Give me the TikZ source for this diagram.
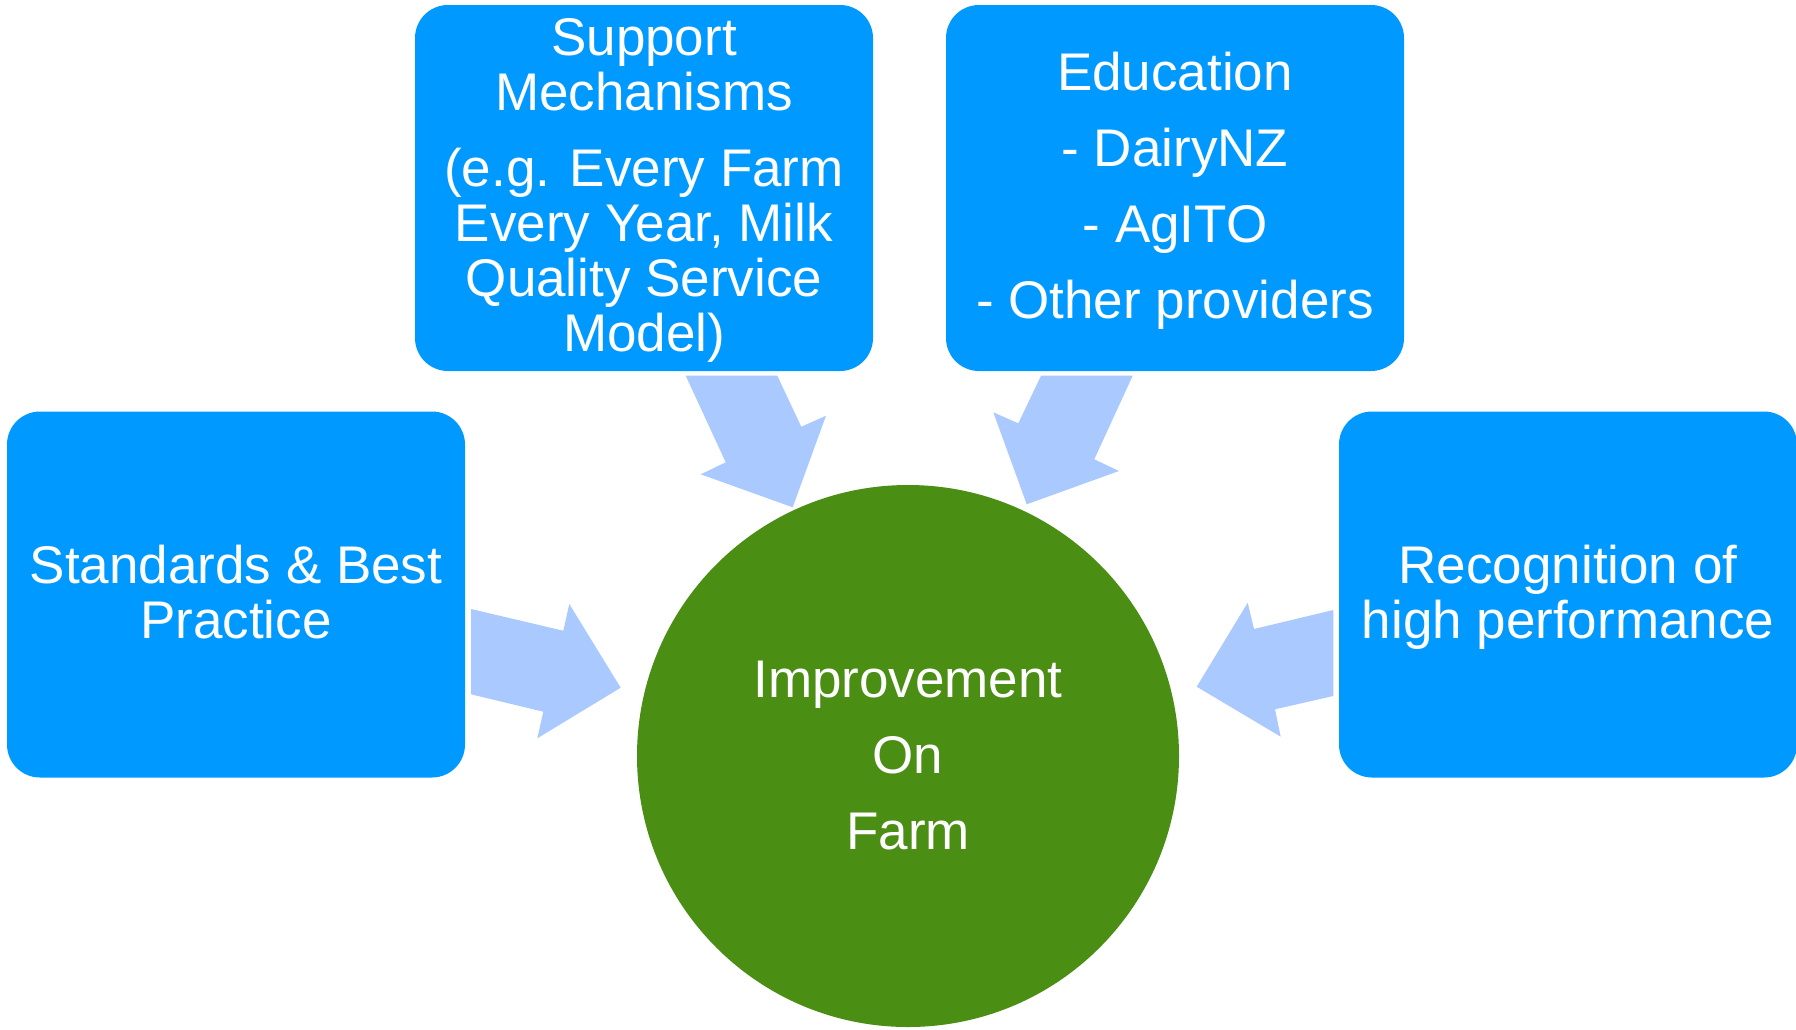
\documentclass[tikz,border=0pt]{standalone}
\usepackage{fontspec}
\setmainfont{Liberation Sans}
\definecolor{boxblue}{RGB}{0,153,255}
\definecolor{arrowblue}{RGB}{170,202,255}
\definecolor{farmgreen}{RGB}{75,142,20}
\begin{document}
\begin{tikzpicture}[x=1pt,y=-1pt,
  box/.style={rectangle, rounded corners=33pt, fill=boxblue, text=white,
    minimum width=458pt, minimum height=366pt, inner sep=0pt, align=center,
    font=\fontsize{53}{55}\selectfont},
  hub/.style={circle, fill=farmgreen, minimum size=542pt, inner sep=0pt,
    text=white, align=center, font=\fontsize{53}{55}\selectfont},
  lbl/.style={text=white, align=center, inner sep=0pt, font=\fontsize{53}{55}\selectfont},
  blockarrow/.style={fill=arrowblue}]
\useasboundingbox (0,0) rectangle (1796,1029);

\node[box] (sup) at (644,188) {};
\node[lbl] (suptext) at (644,190.5) {Support\\Mechanisms\\[21pt](e.g. Every Farm\\Every Year, Milk\\Quality Service\\Model)};
\node[box] (edu) at (1175,188) {};
\node[lbl] (edutext) at (1175,190.5) {Education\\[21pt]- DairyNZ\\[21pt]- AgITO\\[21pt]- Other providers};
\node[box] (std) at (236,594.5) {};
\node[lbl] (stdtext) at (236,592.5) {Standards \& Best\\Practice};
\node[box] (rec) at (1568,594.5) {};
\node[lbl] (rectext) at (1568,597) {Recognition of\\high performance};
\node[hub] (hub) at (908,756) {Improvement\\[21pt]On\\[21pt]Farm};

% block arrows
\fill[blockarrow] (685.7,375.7) -- (777.3,375.7) -- (801.3,426.7) -- (826,415.7) -- (792.7,507.3) -- (700.7,474.3) -- (725.7,462.3) -- cycle;
\fill[blockarrow] (1041,375.7) -- (1132.7,375.7) -- (1094.3,459.3) -- (1119,471) -- (1026.7,504.3) -- (993.3,412.3) -- (1018.3,423.3) -- cycle;
\fill[blockarrow] (471,609) -- (563.3,630.7) -- (569.3,604) -- (620.7,687.7) -- (537.3,738.3) -- (543.3,711.7) -- (471,694.3) -- cycle;
\fill[blockarrow] (1333.3,610) -- (1254,629) -- (1247.7,602.7) -- (1196.7,686.7) -- (1280.7,736.7) -- (1275,709.3) -- (1333.3,696) -- cycle;
\end{tikzpicture}
\end{document}
